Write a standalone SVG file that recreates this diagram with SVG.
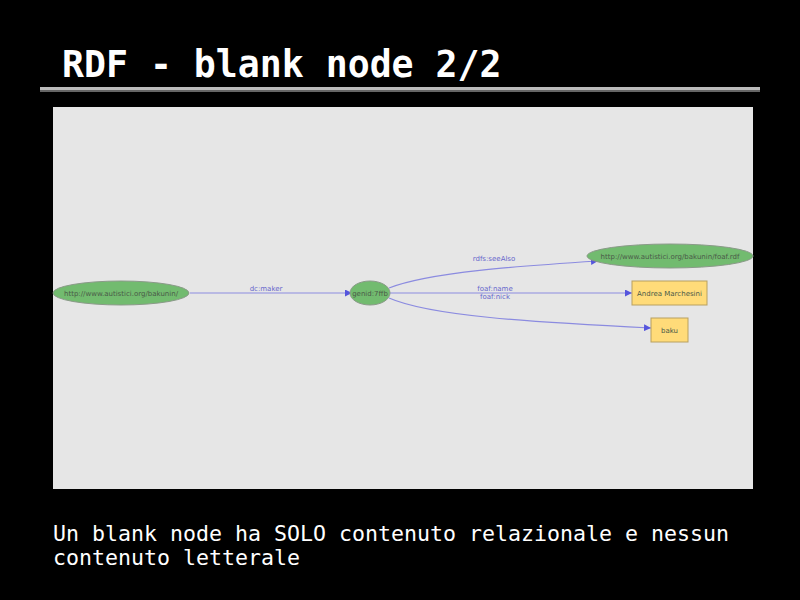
<svg xmlns="http://www.w3.org/2000/svg" width="800" height="600" viewBox="0 0 800 600">
<defs>
<style>
.mono{font-family:"DejaVu Sans Mono","Liberation Mono",monospace;fill:#ffffff}
.lbl{font-family:"DejaVu Sans","Liberation Sans",sans-serif;font-size:7px;fill:#6666cc;text-anchor:middle}
.ntx{font-family:"DejaVu Sans","Liberation Sans",sans-serif;font-size:7px;fill:#4a5a48;text-anchor:middle}
.res{fill:#72bb6f;stroke:#8a9a88;stroke-width:1}
.lit{fill:#ffdb79;stroke:#b8a060;stroke-width:1}
.edge{fill:none;stroke:#8b8be0;stroke-width:1.2}
</style>
<marker id="arr" viewBox="0 0 10 10" refX="10" refY="5" markerWidth="7" markerHeight="7" markerUnits="userSpaceOnUse" orient="auto">
<path d="M0,0 L10,5 L0,10 z" fill="#5555dd"/>
</marker>
</defs>
<rect width="800" height="600" fill="#000000"/>
<text class="mono" x="62" y="77" font-size="36.5" font-weight="bold">RDF - blank node 2/2</text>
<rect x="40" y="87" width="720" height="3" fill="#bbbbbb"/>
<rect x="40" y="90" width="720" height="2" fill="#666666"/>
<rect x="53" y="107" width="700" height="382" fill="#e6e6e6"/>
<g id="connectors">
<path class="edge" d="M190,293 L352,293" marker-end="url(#arr)"/>
<path class="edge" d="M389,288 C430,272 520,266 598,261" marker-end="url(#arr)"/>
<path class="edge" d="M390,293 L632,293" marker-end="url(#arr)"/>
<path class="edge" d="M389,298 C430,316 530,322 651,328" marker-end="url(#arr)"/>
<text class="lbl" x="266" y="291">dc:maker</text>
<text class="lbl" x="494" y="261">rdfs:seeAlso</text>
<text class="lbl" x="495" y="291">foaf:name</text>
<text class="lbl" x="495" y="299">foaf:nick</text>
</g>
<g id="n-bakunin">
<ellipse class="res" cx="121" cy="293" rx="68" ry="12"/>
<text class="ntx" x="121" y="296">http://www.autistici.org/bakunin/</text>
</g>
<g id="n-genid">
<ellipse class="res" cx="370" cy="293" rx="20" ry="12"/>
<text class="ntx" x="370" y="296">genid:7ffb</text>
</g>
<g id="n-foaf">
<ellipse class="res" cx="670" cy="256" rx="83" ry="12"/>
<text class="ntx" x="670" y="259">http://www.autistici.org/bakunin/foaf.rdf</text>
</g>
<g id="n-andrea">
<rect class="lit" x="632" y="281" width="75" height="24"/>
<text class="ntx" x="669.5" y="296">Andrea Marchesini</text>
</g>
<g id="n-baku">
<rect class="lit" x="651" y="318" width="37" height="24"/>
<text class="ntx" x="669.5" y="333">baku</text>
</g>
<text class="mono" x="53" y="541" font-size="21.6">Un blank node ha SOLO contenuto relazionale e nessun</text>
<text class="mono" x="53" y="565" font-size="21.6">contenuto letterale</text>
</svg>
